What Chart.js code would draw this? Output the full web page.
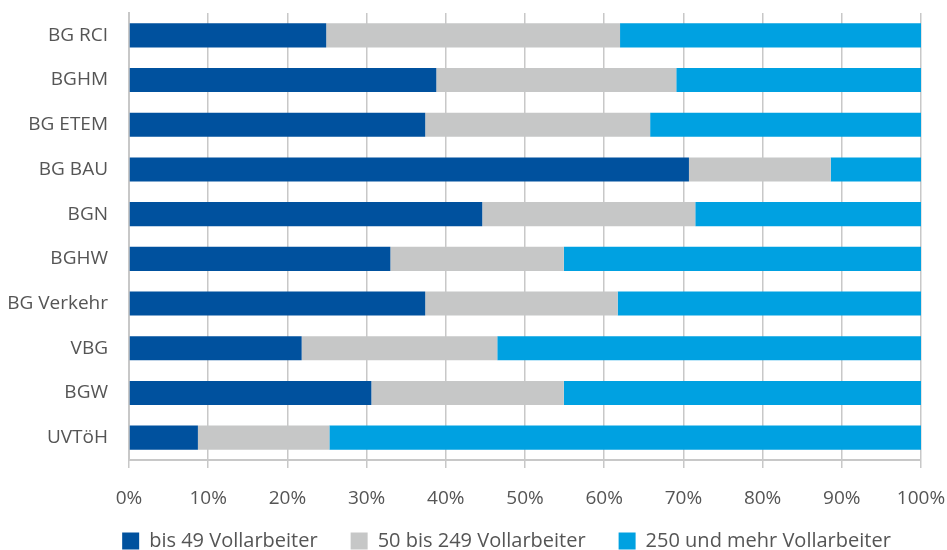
<!DOCTYPE html>
<html>
<head>
<meta charset="utf-8">
<script src="https://cdn.jsdelivr.net/npm/chart.js@4/dist/chart.umd.min.js"></script>
<style>
  html, body { margin: 0; padding: 0; background: #fff; }
  #wrap { width: 947px; height: 550px; position: relative; }
</style>
</head>
<body>
<div id="wrap"><canvas id="chart"></canvas></div>
<script>
// categories (top to bottom) and shares in percent
const categories = ['BG RCI', 'BGHM', 'BG ETEM', 'BG BAU', 'BGN', 'BGHW', 'BG Verkehr', 'VBG', 'BGW', 'UVTöH'];
const small = [24.9, 38.8, 37.4, 70.7, 44.6, 33.0, 37.4, 21.8, 30.6, 8.7];
const medium = [37.1, 30.3, 28.4, 17.9, 26.9, 21.9, 24.3, 24.7, 24.3, 16.6];
const large = [38.0, 30.9, 34.2, 11.4, 28.5, 45.1, 38.3, 53.5, 45.1, 74.7];
const xTicks = [0, 10, 20, 30, 40, 50, 60, 70, 80, 90, 100];

const fontFamily = '"Open Sans", "Noto Sans", sans-serif';
const textColor = '#555555';
const gridColor = '#c8c8c8';

// move the legend a little up and right after layout
const legendNudge = {
  id: 'legendNudge',
  afterLayout(chart) {
    const lg = chart.legend;
    if (!lg) return;
    lg.top -= 10; lg.bottom -= 10;
    lg.left += 33; lg.right += 33;
  }
};

const ctx = document.getElementById('chart').getContext('2d');

new Chart(ctx, {
  type: 'bar',
  data: {
    labels: categories,
    datasets: [
      { label: 'bis 49 Vollarbeiter', data: small, backgroundColor: '#00519e' },
      { label: '50 bis 249 Vollarbeiter', data: medium, backgroundColor: '#c6c7c7' },
      { label: '250 und mehr Vollarbeiter', data: large, backgroundColor: '#00a1e1' },
    ]
  },
  plugins: [legendNudge],
  options: {
    indexAxis: 'y',
    responsive: true,
    maintainAspectRatio: false,
    animation: false,
    datasets: { bar: { barPercentage: 0.54, categoryPercentage: 1.0 } },
    layout: { padding: { top: 13, right: 0, bottom: -21, left: 0 } },
    scales: {
      x: {
        stacked: true,
        min: 0,
        max: 100,
        afterBuildTicks: (scale) => { scale.ticks = xTicks.map(v => ({ value: v })); },
        afterFit: (scale) => {
          scale.height = 48;
          scale.paddingLeft = 0;
          scale.paddingRight = 26;
        },
        grid: { color: gridColor, lineWidth: 1.5, tickLength: 8, drawTicks: true },
        border: { color: gridColor, width: 2 },
        ticks: {
          color: textColor,
          font: { family: fontFamily, size: 19 },
          padding: 19,
          callback: (v) => v + '%'
        }
      },
      y: {
        stacked: true,
        afterFit: (scale) => {
          scale.width = 129;
          scale.paddingTop = 0;
          scale.paddingBottom = 0;
        },
        grid: { display: false },
        border: { color: gridColor, width: 2 },
        ticks: {
          color: textColor,
          font: { family: fontFamily, size: 19 },
          padding: 13
        }
      }
    },
    plugins: {
      legend: {
        position: 'bottom',
        labels: {
          color: textColor,
          font: { family: fontFamily, size: 20 },
          boxWidth: 17,
          boxHeight: 17,
          padding: 33
        }
      },
      tooltip: { enabled: false }
    }
  }
});
</script>
</body>
</html>
